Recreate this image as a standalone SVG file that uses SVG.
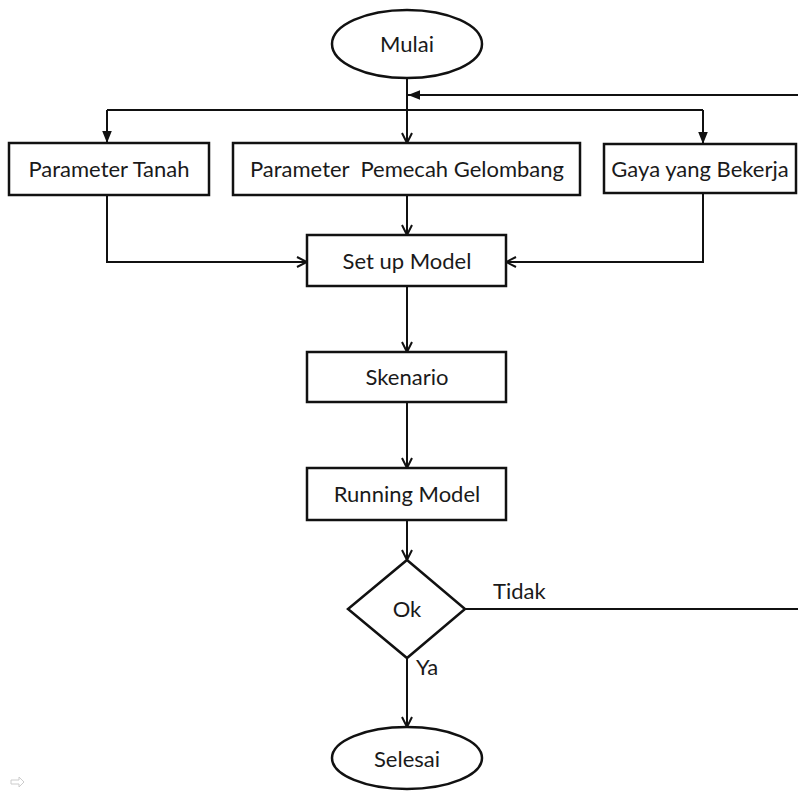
<svg xmlns="http://www.w3.org/2000/svg" width="798" height="791" viewBox="0 0 798 791">
<style>
.box{fill:#fff;stroke:#111;stroke-width:2.5}
.t{font-family:Lato,"Open Sans","Liberation Sans",sans-serif;font-size:22px;fill:#1a1a1a;text-anchor:middle}
.lbl{font-family:Lato,"Open Sans","Liberation Sans",sans-serif;font-size:22px;fill:#1a1a1a}
.c{fill:none;stroke:#111;stroke-width:2}
</style>
<defs>
<marker id="fa" viewBox="0 0 10 10" refX="10" refY="5" markerWidth="6" markerHeight="6" markerUnits="strokeWidth" orient="auto">
<path d="M0,1 L10,5 L0,9 Z" fill="#111"/>
</marker>
<marker id="va" viewBox="0 0 12 12" refX="11" refY="6" markerWidth="6" markerHeight="6" markerUnits="strokeWidth" orient="auto">
<path d="M1,1 L11,6 L1,11" fill="none" stroke="#111" stroke-width="2"/>
</marker>
</defs>
<rect width="798" height="791" fill="#fff"/>
<g id="connectors">
<path class="c" d="M407,78 V143" marker-end="url(#va)"/>
<path class="c" d="M798,95 H408" marker-end="url(#fa)"/>
<path class="c" d="M107,110 H703"/>
<path class="c" d="M107,110 V143" marker-end="url(#fa)"/>
<path class="c" d="M703,110 V144" marker-end="url(#fa)"/>
<path class="c" d="M407,195 V235" marker-end="url(#va)"/>
<path class="c" d="M107,195 V262 H307" marker-end="url(#va)"/>
<path class="c" d="M703,193 V262 H506" marker-end="url(#va)"/>
<path class="c" d="M407,286 V352" marker-end="url(#va)"/>
<path class="c" d="M407,402 V468" marker-end="url(#va)"/>
<path class="c" d="M407,520 V560" marker-end="url(#va)"/>
<path class="c" d="M465,609 H798"/>
<path class="c" d="M407,658 V727" marker-end="url(#va)"/>
<text class="lbl" x="493" y="599">Tidak</text>
<text class="lbl" x="416" y="675">Ya</text>
</g>
<g id="mulai">
<ellipse class="box" cx="407" cy="44" rx="75" ry="34"/>
<text class="t" x="407" y="52" font-size="23">Mulai</text>
</g>
<g id="parameter-tanah">
<rect class="box" x="9" y="143" width="200" height="52"/>
<text class="t" x="109" y="177">Parameter Tanah</text>
</g>
<g id="parameter-pemecah">
<rect class="box" x="233" y="143" width="347" height="52"/>
<text class="t" x="407" y="177" xml:space="preserve">Parameter  Pemecah Gelombang</text>
</g>
<g id="gaya">
<rect class="box" x="604" y="144" width="192" height="49"/>
<text class="t" x="700" y="177">Gaya yang Bekerja</text>
</g>
<g id="setup">
<rect class="box" x="307" y="235" width="199" height="51"/>
<text class="t" x="407" y="269">Set up Model</text>
</g>
<g id="skenario">
<rect class="box" x="307" y="352" width="199" height="50"/>
<text class="t" x="407" y="385">Skenario</text>
</g>
<g id="running">
<rect class="box" x="307" y="468" width="199" height="52"/>
<text class="t" x="407" y="502">Running Model</text>
</g>
<g id="ok">
<path class="box" d="M407,560 L465,609 L407,658 L348,609 Z"/>
<text class="t" x="407" y="617">Ok</text>
</g>
<g id="selesai">
<ellipse class="box" cx="407" cy="758" rx="75" ry="31"/>
<text class="t" x="407" y="767" font-size="23">Selesai</text>
</g>
<path d="M11,780 h8 v-3 l5,5 l-5,5 v-3 h-8 z" fill="none" stroke="#ccc" stroke-width="1"/>
</svg>
